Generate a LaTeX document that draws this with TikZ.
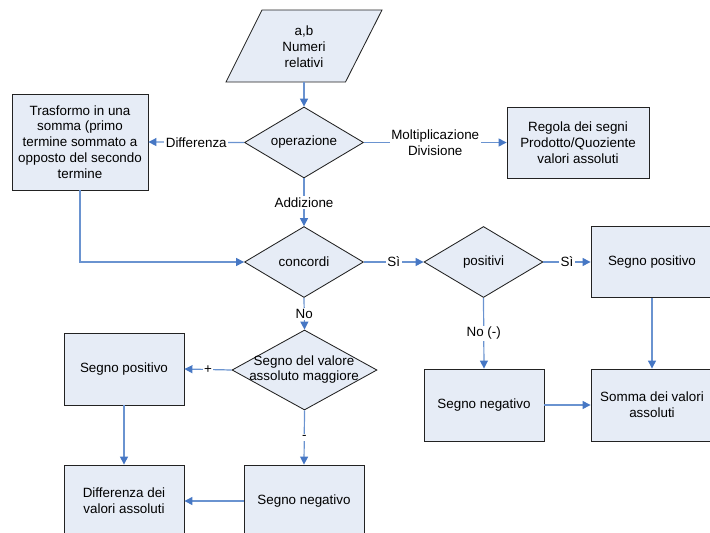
\documentclass[tikz,border=0pt]{standalone}
\usepackage{fontspec}
\setmainfont{Liberation Sans}
\usetikzlibrary{arrows.meta,shapes.geometric}
\definecolor{boxfill}{HTML}{E6ECF6}
\definecolor{boxline}{HTML}{222222}
\definecolor{conncol}{HTML}{6A93D0}
\definecolor{tipcol}{HTML}{4677C4}
\tikzset{
  txtfont/.style={font=\fontsize{13.4}{15.8}\selectfont, text=black},
  shapeline/.style={draw=boxline, line width=0.85pt, fill=boxfill},
  box/.style={shapeline, rectangle, inner sep=0pt, align=center, txtfont},
  dia/.style={shapeline, diamond, inner sep=0pt},
  txt/.style={align=center, inner sep=0pt, txtfont},
  conn/.style={draw=conncol, line width=1.2pt, -{Triangle[length=8pt,width=8pt,color=tipcol]}},
  lbl/.style={fill=white, inner sep=1.5pt, align=center, txtfont}
}
\begin{document}
\begin{tikzpicture}[x=1pt,y=-1pt]
\useasboundingbox (0,0) rectangle (710,533);
% input parallelogram
\draw[shapeline] (262,10) -- (382,10) -- (345.5,82) -- (226,82) -- cycle;
\coordinate (inpb) at (304,82);
\node[txt] (inpt) at (304,47) {a,b\\Numeri\\relativi};
% operazione
\node[dia, minimum width=119pt, minimum height=71pt] (op) at (304,142.5) {};
\node[txt] (opt) at (op) {operazione};
% trasformo
\node[box, minimum width=136pt, minimum height=96pt] (tr) at (80,142) {Trasformo in una\\somma (primo\\termine sommato a\\opposto del secondo\\termine};
% regola
\node[box, minimum width=142pt, minimum height=71pt] (reg) at (578,142.5) {Regola dei segni\\Prodotto/Quoziente\\valori assoluti};
% concordi
\node[dia, minimum width=119pt, minimum height=71pt] (conc) at (304,262) {};
\node[txt] (conct) at (conc) {concordi};
% positivi
\node[dia, minimum width=119pt, minimum height=71pt] (pos) at (483.5,262) {};
\node[txt] (post) at (pos) {positivi};
% segno positivo right (cut by the right edge)
\node[box, minimum width=134pt, minimum height=71pt] (spr) at (658,262) {};
\node[txt] (sprt) at (652,262) {Segno positivo};
% segno negativo right
\node[box, minimum width=120pt, minimum height=72pt] (snr) at (484,405) {Segno negativo};
% somma (cut by the right edge)
\node[box, minimum width=134pt, minimum height=72pt] (som) at (658,405) {};
\node[txt] (somt) at (652,405) {Somma dei valori\\assoluti};
% segno del valore assoluto maggiore
\node[dia, minimum width=145pt, minimum height=80pt] (sv) at (304.5,370) {};
\node[txt] (svt) at (304,369.5) {Segno del valore\\assoluto maggiore};
% segno positivo left
\node[box, minimum width=120pt, minimum height=72pt] (spl) at (124,369) {Segno positivo};
% differenza (cut by the bottom edge)
\node[box, minimum width=120pt, minimum height=76pt] (dif) at (124,503) {};
\node[txt] (dift) at (124,501) {Differenza dei\\valori assoluti};
% segno negativo left (cut by the bottom edge)
\node[box, minimum width=120pt, minimum height=76pt] (snl) at (304,503) {};
\node[txt] (snlt) at (304,501) {Segno negativo};

% connectors
\draw[conn] (inpb) -- (op.north);
\draw[conn] (op.west) -- node[lbl] {Differenza} (tr.east);
\draw[conn] (op.east) -- node[lbl] {Moltiplicazione\\Divisione} (reg.west);
\draw[conn] (op.south) -- node[lbl] {Addizione} (conc.north);
\draw[conn] (tr.south) |- (conc.west);
\draw[conn] (conc.east) -- node[lbl] {Sì} (pos.west);
\draw[conn] (pos.east) -- node[lbl] {Sì} (spr.west);
\draw[conn] (pos.south) -- node[lbl] {No (-)} (snr.north);
\draw[conn] (sprt.center |- spr.south) -- (somt.center |- som.north);
\draw[conn] (snr.east) -- (som.west);
\draw[conn] (conc.south) -- node[lbl] {No} (sv.north);
\draw[conn] (sv.west) -- node[lbl] {+} (spl.east);
\draw[conn] (sv.south) -- node[lbl] {-} (snl.north);
\draw[conn] (spl.south) -- (dif.north);
\draw[conn] (snl.west |- dift.center) -- (dif.east |- dift.center);
\end{tikzpicture}
\end{document}
